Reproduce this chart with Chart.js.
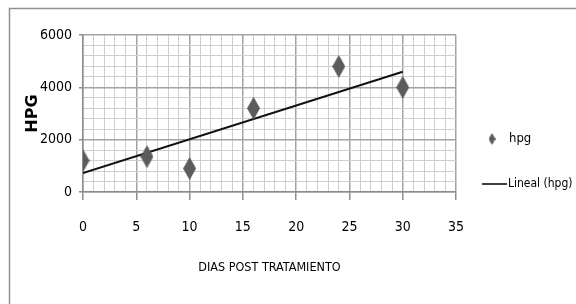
<!DOCTYPE html>
<html>
<head>
<meta charset="utf-8">
<script src="https://cdn.jsdelivr.net/npm/chart.js@4.4.0/dist/chart.umd.min.js"></script>
<style>
  html, body { margin: 0; padding: 0; background: #fff; }
  #wrap { position: relative; width: 576px; height: 304px; }
</style>
</head>
<body>
<div id="wrap"><canvas id="chart"></canvas></div>
<script>
// datos
const dias = [0, 6, 10, 16, 24, 30];
const hpg = [1200, 1350, 900, 3200, 4800, 4000];
const xTicks = [0, 5, 10, 15, 20, 25, 30, 35];
const yTicks = [0, 2000, 4000, 6000];

const FONT = "'Liberation Sans Narrow', 'DejaVu Sans Condensed', 'DejaVu Sans', sans-serif";
const MARKER = "#5c5c5c";

// rombo alto como el de Excel
function makeDiamond(w, h, color) {
  const c = document.createElement("canvas");
  c.width = w; c.height = h;
  const g = c.getContext("2d");
  g.fillStyle = color;
  g.beginPath();
  g.moveTo(w / 2, 0);
  g.lineTo(w, h / 2);
  g.lineTo(w / 2, h);
  g.lineTo(0, h / 2);
  g.closePath();
  g.fill();
  return c;
}
const bigDiamond = makeDiamond(13, 23, MARKER);
const smallDiamond = makeDiamond(7, 12, MARKER);

// tendencia lineal (minimos cuadrados), como "Lineal (hpg)"
const n = dias.length;
const mx = dias.reduce((a, b) => a + b, 0) / n;
const my = hpg.reduce((a, b) => a + b, 0) / n;
let sxy = 0, sxx = 0;
dias.forEach((x, i) => { sxy += (x - mx) * (hpg[i] - my); sxx += (x - mx) * (x - mx); });
const pend = sxy / sxx;
const orig = my - pend * mx;
const xFirst = dias[0], xLast = dias[n - 1];
const tendencia = [
  { x: xFirst, y: orig + pend * xFirst },
  { x: xLast, y: orig + pend * xLast }
];

const marco = {
  id: "marco",
  beforeDraw(chart) {
    const ctx = chart.ctx;
    ctx.save();
    ctx.strokeStyle = "#8f8f8f";
    ctx.lineWidth = 1.5;
    ctx.beginPath();
    ctx.moveTo(9.5, 304);
    ctx.lineTo(9.5, 8.5);
    ctx.lineTo(576, 8.5);
    ctx.stroke();
    ctx.restore();
  }
};

const leyenda = {
  id: "leyenda",
  afterDraw(chart) {
    const ctx = chart.ctx;
    const ds = chart.data.datasets;
    ctx.save();
    ctx.fillStyle = "#000";
    ctx.textBaseline = "middle";
    ctx.textAlign = "left";
    // hpg
    ctx.font = "13px " + FONT;
    ctx.drawImage(smallDiamond, 492 - 3.5, 139 - 6);
    ctx.fillText(ds[0].label, 509, 139);
    // Lineal (hpg)
    ctx.font = "12px " + FONT;
    ctx.strokeStyle = "#000";
    ctx.lineWidth = 1.5;
    ctx.beginPath();
    ctx.moveTo(482, 184);
    ctx.lineTo(507, 184);
    ctx.stroke();
    ctx.fillText(ds[1].label, 508, 184);
    ctx.restore();
  }
};

new Chart(document.getElementById("chart"), {
  type: "scatter",
  data: {
    datasets: [
      {
        label: "hpg",
        data: dias.map((d, i) => ({ x: d, y: hpg[i] })),
        pointStyle: bigDiamond,
        backgroundColor: MARKER,
        borderColor: MARKER,
        order: 1
      },
      {
        type: "line",
        label: "Lineal (hpg)",
        data: tendencia,
        borderColor: "#111",
        borderWidth: 2,
        pointRadius: 0,
        fill: false,
        order: 2
      }
    ]
  },
  options: {
    responsive: true,
    maintainAspectRatio: false,
    animation: false,
    events: [],
    layout: { padding: { left: 10, top: 35, right: 120, bottom: 0 } },
    plugins: {
      legend: { display: false },
      tooltip: { enabled: false }
    },
    scales: {
      x: {
        type: "linear",
        min: 0,
        max: 35,
        afterFit: (s) => { s.height = 112; },
        afterBuildTicks: (s) => {
          s.ticks = Array.from({ length: 36 }, (_, i) => ({ value: i }));
        },
        ticks: {
          autoSkip: false,
          maxRotation: 0,
          padding: 19,
          color: "#000",
          font: { family: FONT, size: 14 },
          callback: (v) => (xTicks.includes(v) ? String(v) : "")
        },
        grid: {
          tickLength: 8,
          color: (c) => (c.tick && c.tick.value % 5 === 0 ? "#a3a3a3" : "#cfcfcf"),
          tickColor: (c) => (c.tick && c.tick.value % 5 === 0 ? "#8c8c8c" : "rgba(0,0,0,0)"),
          lineWidth: (c) => (c.tick && c.tick.value % 5 === 0 ? 1.5 : 1)
        },
        border: { color: "#8c8c8c", width: 1.5 },
        title: {
          display: true,
          text: "DIAS POST TRATAMIENTO",
          color: "#000",
          font: { family: FONT, size: 12.5 },
          padding: { top: 4, bottom: 28.5 }
        }
      },
      y: {
        type: "linear",
        min: 0,
        max: 6000,
        afterFit: (s) => { s.width = 73; },
        afterBuildTicks: (s) => {
          s.ticks = Array.from({ length: 16 }, (_, i) => ({ value: i * 400 }));
        },
        ticks: {
          autoSkip: false,
          padding: 7,
          color: "#000",
          font: { family: FONT, size: 14 },
          callback: (v) => (yTicks.includes(v) ? String(v) : "")
        },
        grid: {
          tickLength: 4,
          color: (c) => (c.tick && c.tick.value % 2000 === 0 ? "#a3a3a3" : "#cfcfcf"),
          tickColor: (c) => (c.tick && c.tick.value % 2000 === 0 ? "#8c8c8c" : "rgba(0,0,0,0)"),
          lineWidth: (c) => (c.tick && c.tick.value % 2000 === 0 ? 1.5 : 1)
        },
        border: { color: "#8c8c8c", width: 1.5 },
        title: {
          display: true,
          text: "HPG",
          color: "#000",
          font: { family: "'DejaVu Sans', sans-serif", size: 16, weight: "bold" },
          padding: { top: 13.5, bottom: 0 }
        }
      }
    }
  },
  plugins: [marco, leyenda]
});
</script>
</body>
</html>
